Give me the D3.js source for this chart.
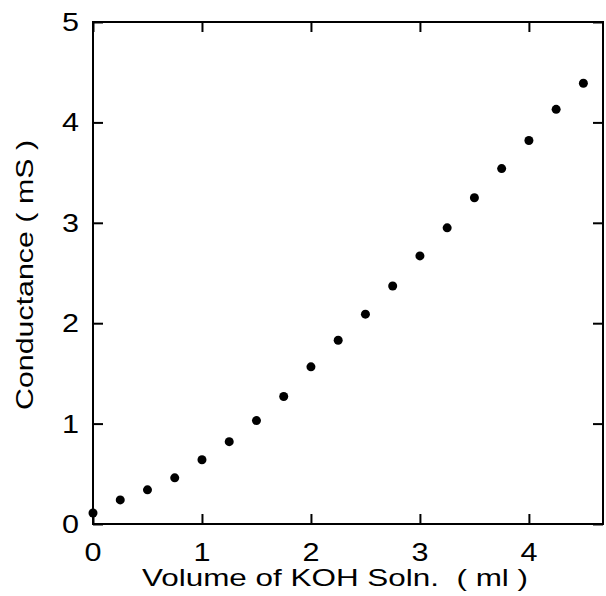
<!DOCTYPE html>
<html>
<head>
<meta charset="utf-8">
<script src="https://cdn.jsdelivr.net/npm/d3@7"></script>
<style>
  body { margin: 0; background: #fff; }
  text { font-family: "Liberation Sans", Arial, sans-serif; fill: #000; }
</style>
</head>
<body>
<div id="chart"></div>
<script>
// data
const volume = [0, 0.25, 0.5, 0.75, 1, 1.25, 1.5, 1.75, 2, 2.25, 2.5, 2.75, 3, 3.25, 3.5, 3.75, 4, 4.25, 4.5];
const conductance = [0.11, 0.24, 0.34, 0.46, 0.64, 0.82, 1.03, 1.27, 1.565, 1.83, 2.09, 2.37, 2.67, 2.95, 3.25, 3.54, 3.82, 4.13, 4.39];
const xTicks = [0, 1, 2, 3, 4];
const yTicks = [0, 1, 2, 3, 4, 5];
const xTitle = 'Volume of KOH Soln.  ( ml )';
const yTitle = 'Conductance ( mS )';

const width = 606;
const height = 596;
const plotLeft = 93, plotRight = 603, plotTop = 22, plotBottom = 524;
const tickLen = 10;

const svg = d3.select('#chart')
  .append('svg')
  .attr('width', width)
  .attr('height', height);

const x = d3.scaleLinear().domain([0, 4.68]).range([plotLeft, plotRight]);
const y = d3.scaleLinear().domain([0, 5]).range([plotBottom, plotTop]);

// frame
svg.append('rect')
  .attr('x', plotLeft)
  .attr('y', plotTop)
  .attr('width', plotRight - plotLeft)
  .attr('height', plotBottom - plotTop)
  .attr('fill', 'none')
  .attr('stroke', '#000')
  .attr('stroke-width', 2);

// inward ticks on all four sides
const bottomAxis = d3.axisBottom(x).tickValues(xTicks).tickSize(-tickLen).tickFormat('');
const topAxis = d3.axisTop(x).tickValues(xTicks).tickSize(-tickLen).tickFormat('');
const leftAxis = d3.axisLeft(y).tickValues(yTicks).tickSize(-tickLen).tickFormat('');
const rightAxis = d3.axisRight(y).tickValues(yTicks).tickSize(-tickLen).tickFormat('');

svg.append('g').attr('transform', `translate(0, ${plotBottom})`).call(bottomAxis);
svg.append('g').attr('transform', `translate(0, ${plotTop})`).call(topAxis);
svg.append('g').attr('transform', `translate(${plotLeft}, 0)`).call(leftAxis);
svg.append('g').attr('transform', `translate(${plotRight}, 0)`).call(rightAxis);

svg.selectAll('.domain').remove();
svg.selectAll('.tick line').attr('stroke', '#000').attr('stroke-width', 2);

// tick labels (the original face is wider than Liberation, so stretch a bit)
svg.append('g')
  .selectAll('text')
  .data(xTicks)
  .join('text')
  .attr('x', (d) => x(d))
  .attr('y', 561)
  .attr('text-anchor', 'middle')
  .attr('font-size', 25)
  .attr('textLength', 17)
  .attr('lengthAdjust', 'spacingAndGlyphs')
  .text((d) => d);

svg.append('g')
  .selectAll('text')
  .data(yTicks)
  .join('text')
  .attr('x', 79)
  .attr('y', (d) => y(d))
  .attr('dy', '0.36em')
  .attr('text-anchor', 'end')
  .attr('font-size', 25)
  .attr('textLength', 17)
  .attr('lengthAdjust', 'spacingAndGlyphs')
  .text((d) => d);

// axis titles
svg.append('text')
  .attr('x', 335)
  .attr('y', 586)
  .attr('text-anchor', 'middle')
  .attr('font-size', 24)
  .attr('textLength', 386)
  .attr('lengthAdjust', 'spacingAndGlyphs')
  .style('white-space', 'pre')
  .text(xTitle);

svg.append('text')
  .attr('transform', 'translate(33, 275) rotate(-90)')
  .attr('text-anchor', 'middle')
  .attr('font-size', 24)
  .attr('textLength', 270)
  .attr('lengthAdjust', 'spacingAndGlyphs')
  .style('white-space', 'pre')
  .text(yTitle);

// points
svg.append('g')
  .selectAll('circle')
  .data(volume)
  .join('circle')
  .attr('cx', (d) => x(d))
  .attr('cy', (d, i) => y(conductance[i]))
  .attr('r', 4.5)
  .attr('fill', '#000');
</script>
</body>
</html>
